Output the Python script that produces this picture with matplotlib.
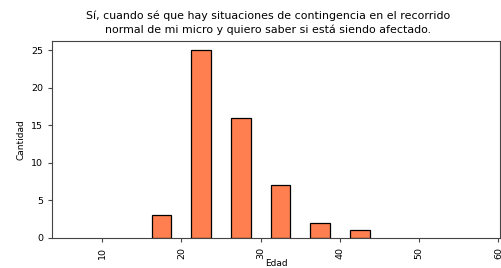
import matplotlib
matplotlib.use("Agg")
import matplotlib.pyplot as plt

bordes_izq = [15, 20, 25, 30, 35, 40]
cantidades = [3, 25, 16, 7, 2, 1]
ancho_bin = 5

titulo = ("Sí, cuando sé que hay situaciones de contingencia en el recorrido\n"
          "normal de mi micro y quiero saber si está siendo afectado.")

fig = plt.figure(figsize=(5.01, 2.68), dpi=100)
ax = fig.add_axes([0.104, 0.112, 0.894, 0.735])

centros = [b + ancho_bin / 2 for b in bordes_izq]
ax.bar(centros, cantidades, width=ancho_bin * 0.5, color="#FF7F50",
       edgecolor="black", linewidth=0.9)

ax.set_xlim(3.7, 60.2)
ax.set_ylim(0, 26.25)
ax.set_xticks([10, 20, 30, 40, 50, 60])
ax.set_yticks([0, 5, 10, 15, 20, 25])
ax.tick_params(axis="x", labelrotation=90)
ax.tick_params(labelsize=6.8, length=3, color="#444444")
for s in ax.spines.values():
    s.set_color("#444444")

ax.set_xlabel("Edad", fontsize=6.5, labelpad=0)
ax.set_ylabel("Cantidad", fontsize=6.5, labelpad=4)
ax.set_title(titulo, fontsize=7.9, pad=6, x=0.482, linespacing=1.4)

fig.savefig("out.png", dpi=100)
